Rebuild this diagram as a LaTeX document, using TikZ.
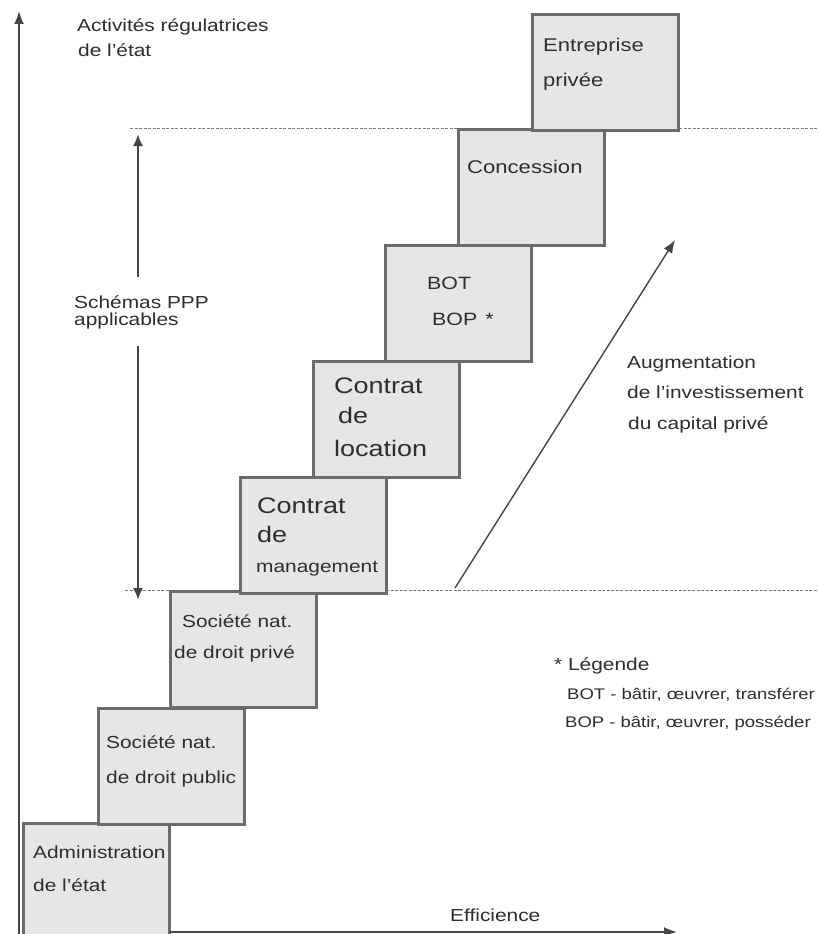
\documentclass[tikz,border=0pt]{standalone}
\usepackage{fontspec}
\setmainfont{Liberation Sans}[FakeStretch=1.2]
\usetikzlibrary{arrows.meta}
\definecolor{txt}{HTML}{2E2E2E}
\definecolor{boxfill}{HTML}{E6E6E6}
\definecolor{boxline}{HTML}{6B6B6B}
\definecolor{axis}{HTML}{454545}
\definecolor{dash}{HTML}{7A7A7A}
\begin{document}
\begin{tikzpicture}[x=1pt,y=-1pt,
  stepbox/.style={draw=boxline, fill=boxfill, line width=2.6pt, minimum width=146pt, minimum height=116pt, inner sep=0pt, anchor=north west},
  lbl/.style={anchor=base west, inner sep=0pt, text=txt, font=\fontsize{17.4}{20}\selectfont},
  mid/.style={lbl, font=\fontsize{18.4}{22}\selectfont},
  big/.style={lbl, font=\fontsize{22.5}{26}\selectfont},
  leg/.style={lbl, font=\fontsize{15.4}{18}\selectfont},
  axisline/.style={draw=axis, line width=2pt, -{Latex[length=13pt,width=10pt]}},
  dblarrow/.style={draw=axis, line width=2pt, {Latex[length=12pt,width=10pt]}-{Latex[length=12pt,width=10pt]}},
  diagarrow/.style={draw=axis, line width=1.4pt, -{Latex[length=13pt,width=10pt]}},
  dashline/.style={draw=dash, line width=1pt, dash pattern=on 3pt off 1.5pt},
]
\useasboundingbox (0,0) rectangle (817,934);
\clip (0,0) rectangle (817,934);
\fill[white] (0,0) rectangle (817,934);

% dashed limits
\coordinate (dtl) at (130,128);
\coordinate (dtr) at (817,128);
\coordinate (dbl) at (125,590);
\coordinate (dbr) at (817,590);
\draw[dashline] (dtl) -- (dtr);
\draw[dashline] (dbl) -- (dbr);

% steps
\node[stepbox, minimum height=124pt] (adm) at (22,822) {};
\node[stepbox] (pub) at (97,707) {};
\node[stepbox] (priv) at (169,590) {};
\node[stepbox] (mgmt) at (239,476) {};
\node[stepbox] (loc) at (312,360) {};
\node[stepbox] (bot) at (384,244) {};
\node[stepbox] (conc) at (457,128) {};
\node[stepbox] (ent) at (531,13) {};

% axes
\coordinate (yb) at (19,934);
\coordinate (yt) at (19,11);
\draw[axisline] (yb) -- (yt);
\coordinate (xl) at (170,932);
\coordinate (xr) at (677,932);
\draw[axisline] (xl) -- (xr);

% PPP double arrow
\coordinate (pb) at (138,600);
\coordinate (pt) at (138,134);
\draw[dblarrow] (pb) -- (pt);
\fill[white] (70,277) rectangle (215,346);

% diagonal arrow
\coordinate (ga) at (455,588);
\coordinate (gb) at (675,240);
\draw[diagarrow] (ga) -- (gb);

% texts in boxes
\node[lbl] (adm1) at (33,858) {Administration};
\node[lbl] (adm2) at (33,891) {de l'état};
\node[lbl] (pub1) at (106,748) {Société nat.};
\node[lbl] (pub2) at (106,783) {de droit public};
\node[lbl] (priv1) at (182,627) {Société nat.};
\node[lbl] (priv2) at (174,658) {de droit privé};
\node[big] (mg1) at (257,513) {Contrat};
\node[big] (mg2) at (257,542) {de};
\node[lbl] (mg3) at (256,572) {management};
\node[big] (lo1) at (334,393) {Contrat};
\node[big] (lo2) at (338,423) {de};
\node[big] (lo3) at (334,456) {location};
\node[mid, font=\fontsize{17.8}{20}\selectfont] (bo1) at (427,289) {BOT};
\node[mid, font=\fontsize{17.8}{20}\selectfont] (bo2) at (432,325) {BOP\hspace{0.45em}*};
\node[mid] (co1) at (467,173) {Concession};
\node[mid] (en1) at (543,52) {Entreprise};
\node[mid] (en2) at (543,86) {privée};

% side labels
\node[lbl] (act1) at (77,32) {Activités régulatrices};
\node[lbl] (act2) at (78,57) {de l'état};
\node[lbl] (sch1) at (74,308) {Schémas PPP};
\node[lbl] (sch2) at (74,325) {applicables};
\node[lbl] (aug1) at (627,368) {Augmentation};
\node[lbl] (aug2) at (627,398) {de l'investissement};
\node[lbl] (aug3) at (628,429) {du capital privé};
\node[lbl] (lg0) at (554,670) {* Légende};
\node[leg] (lg1) at (567,699) {BOT - bâtir, œuvrer, transférer};
\node[leg] (lg2) at (565,727) {BOP - bâtir, œuvrer, posséder};
\node[lbl] (eff) at (450,921) {Efficience};
\end{tikzpicture}
\end{document}
